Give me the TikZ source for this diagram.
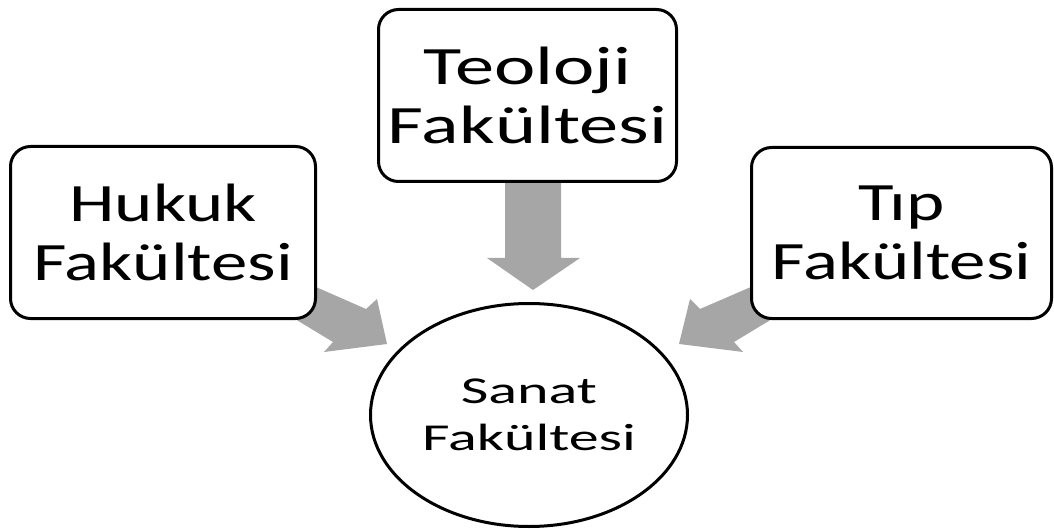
\documentclass[tikz,border=0pt]{standalone}
\usepackage{fontspec}
\usetikzlibrary{shapes.geometric}
\setmainfont{Carlito}
\newfontfamily\fa[FakeStretch=1.35]{Carlito}
\newfontfamily\fb[FakeStretch=1.45]{Carlito}
\newfontfamily\fc[FakeStretch=1.58]{Carlito}
\definecolor{arrowgray}{RGB}{166,166,166}
\begin{document}
\begin{tikzpicture}[x=1pt,y=-1pt,
  facbox/.style={draw=black, line width=3pt, rounded corners=20pt, fill=white,
    align=center, inner sep=0pt, text=black},
  bigtext/.style={font=\fa\fontsize{54}{59}\selectfont},
  blockarrow/.style={fill=arrowgray, draw=none}]
\useasboundingbox (0,0) rectangle (1054,529);
% block arrows (drawn first, tails hidden under the boxes)
\fill[blockarrow] (300,280) -- (366,309) -- (377,299) -- (387,344) -- (324,352) -- (333,342) -- (290,316) -- cycle;
\fill[blockarrow] (767,280) -- (700,309) -- (690,299) -- (679,344) -- (743,352) -- (734,342) -- (777,316) -- cycle;
\fill[blockarrow] (505,170) -- (561,170) -- (561,258) -- (580,258) -- (533,290) -- (487,258) -- (505,258) -- cycle;
% boxes
\node[facbox, bigtext, minimum width=305pt, minimum height=172pt] (hukuk) at (163,232.5) {Hukuk\\Fakültesi};
\node[facbox, font=\fb\fontsize{54}{59}\selectfont, minimum width=298pt, minimum height=172pt] (teoloji) at (527.5,95.5) {Teoloji\\Fakültesi};
\node[facbox, bigtext, minimum width=300pt, minimum height=171pt] (tip) at (901.5,233) {Tıp\\Fakültesi};
\node[draw=black, line width=3pt, ellipse, fill=white, inner sep=0pt, align=center,
  minimum width=317pt, minimum height=223pt, font=\fc\fontsize{38}{47}\selectfont] (sanat) at (529,415) {Sanat\\Fakültesi};
\end{tikzpicture}
\end{document}
